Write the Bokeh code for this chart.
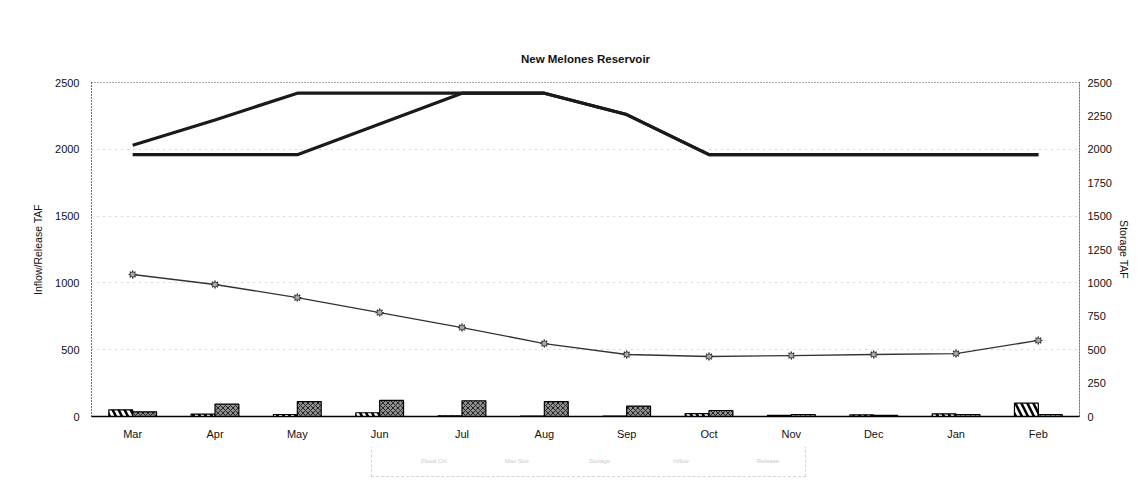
from bokeh.plotting import figure
from bokeh.layouts import column
from bokeh.models import (FactorRange, Range1d, LinearAxis, SingleIntervalTicker,
                          Title, Legend, LegendItem, ColumnDataSource)
from bokeh.transform import dodge
from bokeh.embed import file_html
from bokeh.resources import INLINE

months = ["Mar", "Apr", "May", "Jun", "Jul", "Aug", "Sep", "Oct", "Nov", "Dec", "Jan", "Feb"]
flood_control = [2030, 2220, 2420, 2420, 2420, 2420, 2260, 1960, 1960, 1960, 1960, 1960]
top_conservation = [1960, 1960, 1960, 2190, 2420, 2420, 2260, 1960, 1960, 1960, 1960, 1960]
storage = [1063, 988, 890, 778, 666, 546, 464, 449, 456, 464, 471, 569]
inflow = [50, 18, 15, 28, 5, 3, 3, 22, 8, 12, 20, 100]
release = [35, 92, 112, 120, 118, 112, 78, 45, 15, 8, 15, 15]
legend_labels = ["Flood Ctrl", "Max Stor.", "Storage", "Inflow", "Release"]

src = ColumnDataSource(dict(month=months, flood=flood_control, topc=top_conservation,
                            storage=storage, inflow=inflow, release=release))

FONT = "Liberation Sans"

p = figure(width=1132, height=447, x_range=FactorRange(*months, range_padding=0),
           y_range=Range1d(0, 2500), output_backend="svg", toolbar_location=None,
           min_border_left=91, min_border_right=51, min_border_top=82, min_border_bottom=31)
p.extra_y_ranges = {"storage": Range1d(0, 2500)}

p.background_fill_color = "white"
p.border_fill_color = "white"
p.outline_line_color = "#555555"
p.outline_line_dash = "1 2"
p.outline_line_width = 1

p.xgrid.grid_line_color = None
p.ygrid.grid_line_color = "#aaaaaa"
p.ygrid.grid_line_dash = "1 5"
p.ygrid.grid_line_width = 1

# bars
p.vbar(x=dodge("month", -0.145, range=p.x_range), top="inflow", width=0.29, source=src,
       fill_color="white", line_color="black", line_width=1.2,
       hatch_pattern="\\", hatch_color="black", hatch_scale=12, hatch_weight=2.5)
p.vbar(x=dodge("month", 0.145, range=p.x_range), top="release", width=0.29, source=src,
       fill_color="#909090", line_color="black", line_width=1.2,
       hatch_pattern="x", hatch_color="#222222", hatch_scale=5, hatch_weight=1)

# lines (storage axis)
p.line("month", "flood", source=src, line_color="#1a1a1a", line_width=3.2,
       y_range_name="storage")
p.line("month", "topc", source=src, line_color="#1a1a1a", line_width=3.2,
       y_range_name="storage")
p.line("month", "storage", source=src, line_color="#333333", line_width=1.3,
       y_range_name="storage")
p.scatter("month", "storage", source=src, marker="asterisk", size=8, line_color="#222222",
          line_width=1.3, y_range_name="storage")
p.scatter("month", "storage", source=src, marker="circle", size=5, fill_color="#aaaaaa",
          line_color="#444444", line_width=0.8, y_range_name="storage")

# axes
p.yaxis.ticker = SingleIntervalTicker(interval=500)
p.yaxis.axis_label = "Inflow/Release TAF"
p.yaxis.axis_line_dash = "1 2"
p.yaxis.axis_line_color = "#333333"

right = LinearAxis(y_range_name="storage", ticker=SingleIntervalTicker(interval=250),
                   axis_label="Storage TAF")
right.axis_line_dash = "1 2"
right.axis_line_color = "#333333"
p.add_layout(right, "right")

for ax in [p.yaxis[0], right, p.xaxis[0]]:
    ax.major_tick_line_color = None
    ax.minor_tick_line_color = None
    ax.major_tick_out = 0
    ax.major_tick_in = 0
    ax.minor_tick_out = 0
    ax.minor_tick_in = 0
    ax.major_label_text_font = FONT
    ax.major_label_text_font_size = "11px"
    ax.major_label_text_color = "#111111"
    ax.axis_label_text_font = FONT
    ax.axis_label_text_font_size = "10.5px"
    ax.axis_label_text_font_style = "normal"
    ax.axis_label_text_color = "#111111"
p.yaxis[0].major_label_standoff = 12
right.major_label_standoff = 8
p.yaxis[0].axis_label_standoff = 8
right.axis_label_standoff = 3
p.xaxis.axis_line_color = "black"
p.xaxis.axis_line_width = 1.5
p.xaxis.major_label_standoff = 11

# title
p.add_layout(Title(text="New Melones Reservoir", align="center", text_font=FONT,
                   text_font_size="11.5px", text_font_style="bold", text_color="#111111",
                   standoff=36), "above")

# legend strip (faded in the scan)
lg = figure(width=1132, height=30, x_range=Range1d(0, 1), y_range=Range1d(0, 1),
            output_backend="svg", toolbar_location=None, min_border=0)
lg.axis.visible = False
lg.grid.grid_line_color = None
lg.outline_line_color = None
d1 = lg.line([], [], line_color="black", line_width=3)
d2 = lg.line([], [], line_color="#222222", line_width=2)
d3 = lg.line([], [], line_color="#444444", line_width=1.5)
d4 = lg.line([], [], line_color="black", line_width=2.5)
d5 = lg.line([], [], line_color="#666666", line_width=1)
legend = Legend(items=[LegendItem(label=t, renderers=[r]) for t, r in
                       zip(legend_labels, [d1, d2, d3, d4, d5])],
                location=(280, 0), orientation="horizontal",
                glyph_width=34, glyph_height=10, label_text_font=FONT,
                label_text_font_size="6px", label_text_color="#c8c8c8",
                label_width=38, label_standoff=5,
                spacing=7, padding=10, margin=0,
                border_line_color="#aaaaaa", border_line_dash="1 3",
                background_fill_alpha=0)
lg.add_layout(legend, "center")

open("out.html", "w").write(file_html(column(p, lg), INLINE))
